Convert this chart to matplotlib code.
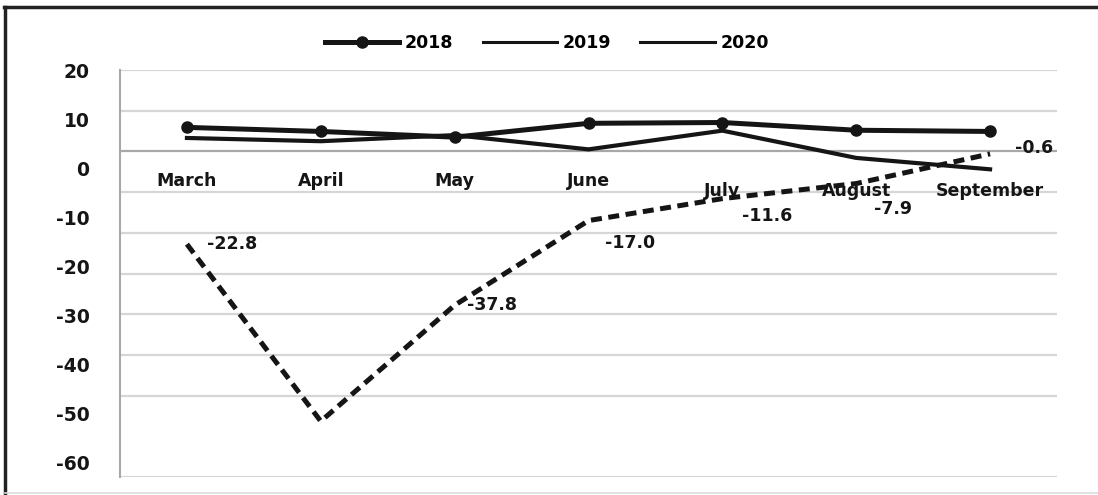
import numpy as np
import matplotlib
matplotlib.use("Agg")
import matplotlib.pyplot as plt
from matplotlib.lines import Line2D

months = ["March", "April", "May", "June", "July", "August", "September"]
y2018 = [5.9, 4.9, 3.5, 6.9, 7.1, 5.2, 4.9]
y2019 = [3.3, 2.5, 4.0, 0.5, 5.1, -1.6, -4.4]
y2020 = [-22.8, -66.3, -37.8, -17.0, -11.6, -7.9, -0.6]
labels2020 = ["-22.8", "", "-37.8", "-17.0", "-11.6", "-7.9", "-0.6"]
ytick_labels = [20, 10, 0, -10, -20, -30, -40, -50, -60]

plt.rcParams["font.family"] = "DejaVu Sans"
plt.rcParams["font.weight"] = "bold"

W, H = 1098, 495
fig = plt.figure(figsize=(W / 100, H / 100), dpi=100)
ax = fig.add_axes([120 / W, 1 - 477 / H, (1057 - 120) / W, (477 - 70) / H])

x = np.arange(len(months))
ink = "#151515"

# gridlines
for g in range(-60, 21, 10):
    ax.axhline(g, color="#a8a8a8" if g == 0 else "#d6d6d6", lw=1.6, zorder=0)
ax.axhline(-80, color="#d6d6d6", lw=1.6, zorder=0)

ax.plot(x, y2019, color=ink, lw=3.0, solid_joinstyle="miter", zorder=3)
ax.plot(x, y2018, color=ink, lw=3.6, marker="o", markersize=8, zorder=4)
ax.plot(x, y2020, color=ink, lw=3.6, linestyle=(0, (2.2, 1.3)), zorder=3)

ax.set_xlim(-0.5, 6.5)
ax.set_ylim(-80, 20)
ax.set_xticks([])
ax.set_yticks([])
for s in ["top", "right", "bottom"]:
    ax.spines[s].set_visible(False)
ax.spines["left"].set_color("#a8a8a8")
ax.spines["left"].set_linewidth(1.5)

# month names sit inside the plot under the zero line
month_label_y = [-7.2, -7.2, -7.2, -7.2, -9.7, -9.7, -9.7]
for i, m in enumerate(months):
    ax.text(i, month_label_y[i], m, ha="center", va="center",
            fontsize=12.5, fontweight="bold", color=ink, zorder=5)

# value labels for 2020
offsets = [(20, 0), (0, 0), (12, 0), (17, -22), (20, -17), (18, -25), (25, 6)]
for i, (v, t) in enumerate(zip(y2020, labels2020)):
    if t:
        ax.annotate(t, (i, v), xytext=offsets[i], textcoords="offset pixels",
                    ha="left", va="center", fontsize=12.5,
                    fontweight="bold", color=ink, zorder=5)

# y tick labels as they appear in the reference (their own spacing)
ax2 = ax.twinx()
ax2.set_ylim(-62.85, 20)
ax2.yaxis.tick_left()
ax2.set_yticks(ytick_labels)
ax2.set_yticklabels([str(v) for v in ytick_labels], fontsize=13.5,
                    fontweight="bold", color=ink)
ax2.tick_params(axis="y", length=0, pad=22)
for s in ax2.spines.values():
    s.set_visible(False)

handles = [
    Line2D([], [], color=ink, lw=3.6, marker="o", markersize=8),
    Line2D([], [], color=ink, lw=2.2),
    Line2D([], [], color=ink, lw=2.2),
]
fig.legend(handles, ["2018", "2019", "2020"], loc="center",
           bbox_to_anchor=(0.498, 0.913), ncol=3, frameon=False,
           prop={"size": 12.5, "weight": "bold"}, handlelength=4.3,
           handletextpad=0.3, columnspacing=1.7)

# outer frame
fig.add_artist(Line2D([4 / W, 1], [1 - 7 / H, 1 - 7 / H], color="#222222",
                      lw=2.5, transform=fig.transFigure))
fig.add_artist(Line2D([5 / W, 5 / W], [0, 1 - 7 / H], color="#222222",
                      lw=2.5, transform=fig.transFigure))
fig.add_artist(Line2D([5 / W, 1], [2 / H, 2 / H], color="#dddddd",
                      lw=1.2, transform=fig.transFigure))

fig.savefig("out.png", dpi=100)
